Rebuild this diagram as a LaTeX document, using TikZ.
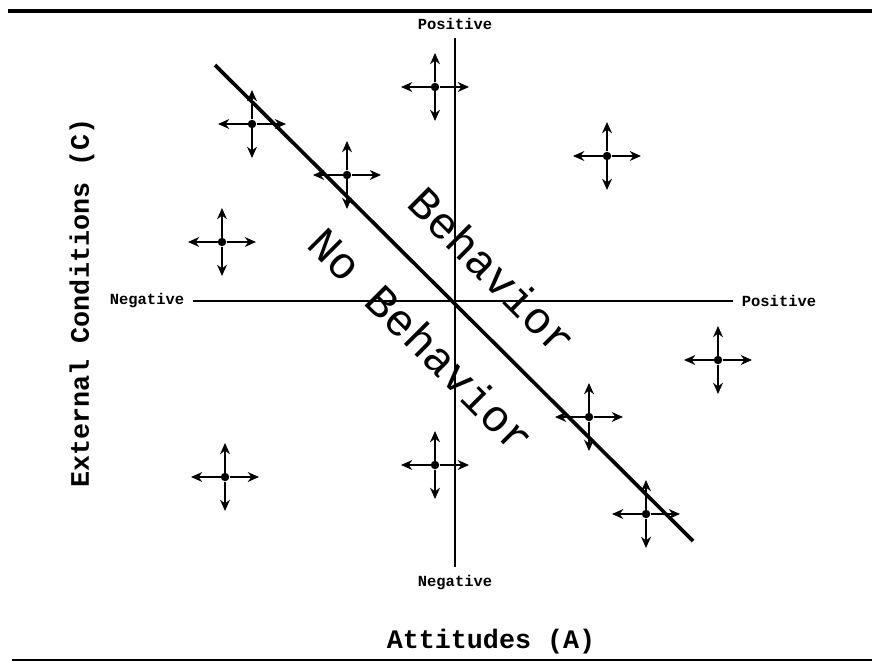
\documentclass[tikz,border=0pt]{standalone}
\usepackage{fontspec}
\newfontfamily\courier{Liberation Mono}
\usetikzlibrary{arrows.meta}
\begin{document}
\begin{tikzpicture}[x=0.025cm, y=-0.025cm,
  axislabel/.style={font=\courier\bfseries\fontsize{11}{11}\selectfont, inner sep=6pt},
  axistitle/.style={font=\courier\bfseries\fontsize{19}{19}\selectfont},
  region/.style={font=\courier\fontsize{32}{32}\selectfont, rotate=-45},
  pointdot/.style={circle, fill, inner sep=0pt, minimum size=6pt},
  arm/.style={-{Stealth[length=8pt,width=7pt]}, line width=1.2pt}]
\useasboundingbox (0,0) rectangle (872,662);
\draw[line width=2.2pt] (8,11) -- (872,11);
\draw[line width=1pt] (12,660) -- (872,660);
\node[axislabel] (ytop) at (455,24) {Positive};
\node[axislabel] (ybot) at (455,583) {Negative};
\node[axislabel] (xleft) at (147,301) {Negative};
\node[axislabel] (xright) at (779,301) {Positive};
\draw[line width=1.1pt] (ytop) -- (ybot);
\draw[line width=1.1pt] (xleft) -- (xright);
\coordinate (d1) at (215,65);
\coordinate (d2) at (693,541);
\draw[line width=2.6pt] (d1) -- (d2);
\node[region] (beh) at (493,271) {Behavior};
\node[region] (nobeh) at (422,340) {No Behavior};
\node[axistitle] (xtitle) at (491,642) {Attitudes (A)};
\node[axistitle, rotate=90] (ytitle) at (82,303) {External Conditions (C)};
\foreach \i/\x/\y in {1/435/87, 2/252/124, 3/347/175, 4/607/156, 5/222/242,
    6/718/360, 7/589/417, 8/435/465, 9/225/477, 10/646/514}{
  \node[pointdot] (p\i) at (\x,\y) {};
  \foreach \d/\dx/\dy in {n/0/-34, s/0/34, w/-34/0, e/34/0}
    \draw[arm] (p\i) -- ++(\dx,\dy) coordinate (p\i\d);
}
\end{tikzpicture}
\end{document}
